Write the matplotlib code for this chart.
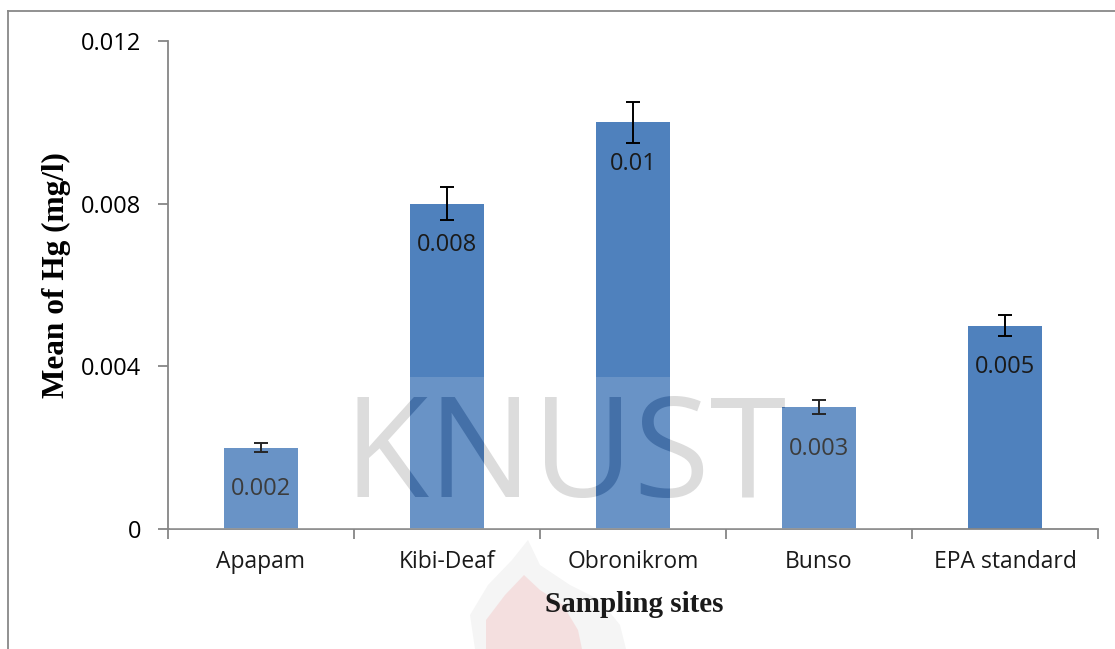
import matplotlib.pyplot as plt
from matplotlib.patches import Rectangle, Polygon
from matplotlib.lines import Line2D
import numpy as np

sites = ['Apapam', 'Kibi-Deaf', 'Obronikrom', 'Bunso', 'EPA standard']
means = [0.002, 0.008, 0.010, 0.003, 0.005]
errors = [0.00011, 0.0004, 0.0005, 0.00016, 0.00026]
value_labels = ['0.002', '0.008', '0.01', '0.003', '0.005']
y_ticks = [0, 0.004, 0.008, 0.012]
y_ticklabels = ['0', '0.004', '0.008', '0.012']

W, H = 1115, 649
fig = plt.figure(figsize=(W / 100, H / 100), dpi=100)
ax = fig.add_axes([168 / W, 1 - 529 / H, (1098 - 168) / W, (529 - 41) / H])
ax.patch.set_visible(False)

x = np.arange(len(sites))
bars = ax.bar(x, means, width=0.4, color='#4F81BD', zorder=2)
ax.errorbar(x, means, yerr=errors, fmt='none', ecolor='black', elinewidth=1.4,
            capsize=5, capthick=1.4, zorder=3)

for xi, m, lab in zip(x, means, value_labels):
    ax.annotate(lab, (xi, m), xytext=(0, -30), textcoords='offset points',
                ha='center', va='center', fontsize=17, color='#1a1a1a',
                family='Open Sans', zorder=4)

ax.set_xlim(-0.5, len(sites) - 0.5)
ax.set_ylim(0, 0.012)
ax.set_yticks(y_ticks)
ax.set_yticklabels(y_ticklabels, family='Open Sans', fontsize=17)
ax.set_xticks(x)
ax.set_xticklabels(sites, family='Open Sans', fontsize=16.5, color='#1a1a1a')
ax.set_xticks(np.arange(len(sites) + 1) - 0.5, minor=True)
ax.tick_params(axis='x', which='major', length=0, pad=15)
ax.tick_params(axis='x', which='minor', length=7, color='#868686', width=1.3)
ax.tick_params(axis='y', length=7, color='#868686', width=1.3, pad=12)

for s in ['top', 'right']:
    ax.spines[s].set_visible(False)
for s in ['left', 'bottom']:
    ax.spines[s].set_color('#868686')
    ax.spines[s].set_linewidth(1.3)

ax.set_ylabel('Mean of Hg (mg/l)', family='Liberation Serif', fontweight='bold',
              fontsize=22.5)
ax.yaxis.set_label_coords(-0.104, 0.52)
fig.text(634 / W, 1 - 605 / H, 'Sampling sites', family='Liberation Serif',
         fontweight='bold', fontsize=21, ha='center', va='center', color='#1a1a1a')

# watermark: lightened band, KNUST letters, faint flame
fig.patches.append(Rectangle((170 / W, 1 - 529 / H), (900 - 170) / W, (529 - 377) / H,
                             transform=fig.transFigure, facecolor='white',
                             alpha=0.15, edgecolor='none', zorder=5))
fig.text(565 / W, 1 - 460 / H, 'KNUST', family='Open Sans', fontsize=100,
         color='#d6d6d6', ha='center', va='center', zorder=-1)
for b in bars:
    t = fig.text(565 / W, 1 - 460 / H, 'KNUST', family='Open Sans', fontsize=100,
                 color='#4470a8', ha='center', va='center', zorder=6)
    t.set_clip_path(b)

outer = np.array([[475, 649], [470, 615], [488, 585], [512, 560], [528, 540],
                  [540, 565], [570, 585], [600, 600], [620, 625], [626, 649]])
inner = np.array([[486, 649], [486, 620], [505, 595], [524, 575], [540, 590],
                  [563, 605], [578, 630], [582, 649]])
fig.patches.append(Polygon(np.column_stack([outer[:, 0] / W, 1 - outer[:, 1] / H]),
                           closed=True, transform=fig.transFigure,
                           facecolor='#c8c8c8', alpha=0.18, edgecolor='none', zorder=-2))
fig.patches.append(Polygon(np.column_stack([inner[:, 0] / W, 1 - inner[:, 1] / H]),
                           closed=True, transform=fig.transFigure,
                           facecolor='#f2a0a0', alpha=0.25, edgecolor='none', zorder=-1))

# outer border
fig.lines.append(Line2D([8 / W, 8 / W], [0, 1 - 11 / H], transform=fig.transFigure,
                        color='#888888', linewidth=1.3))
fig.lines.append(Line2D([8 / W, 1], [1 - 11 / H, 1 - 11 / H], transform=fig.transFigure,
                        color='#888888', linewidth=1.3))

fig.savefig('out.png', dpi=100)
